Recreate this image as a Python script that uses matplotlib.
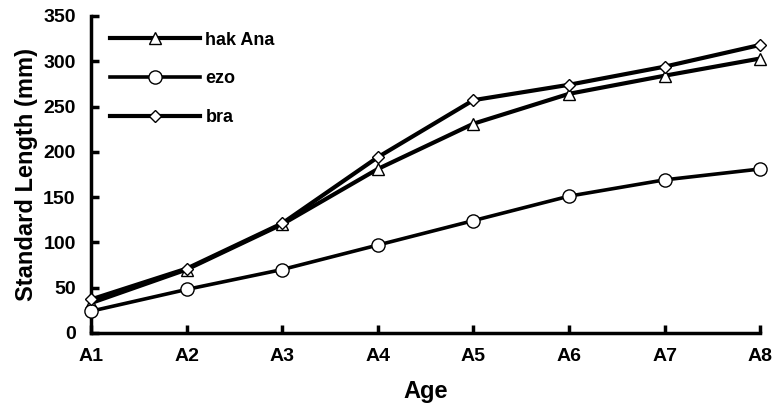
import matplotlib
matplotlib.use("Agg")
import matplotlib.pyplot as plt

plt.rcParams['font.family'] = ['Liberation Sans', 'DejaVu Sans']
plt.rcParams['font.weight'] = 'bold'

# Data
ages = ['A1', 'A2', 'A3', 'A4', 'A5', 'A6', 'A7', 'A8']
hak_ana = [33, 70, 120, 181, 231, 264, 284, 303]
ezo = [24, 48, 70, 97, 124, 151, 169, 181]
bra = [37, 71, 121, 194, 257, 274, 294, 318]

fig = plt.figure(figsize=(7.78, 4.09), dpi=100)
ax = fig.add_axes([0.117, 0.186, 0.86, 0.775])

x = range(len(ages))
ax.plot(x, hak_ana, color='black', lw=3, marker='^', ms=8, mfc='white',
        mec='black', mew=1, label='hak Ana', clip_on=False, zorder=3)
ax.plot(x, ezo, color='black', lw=2.6, marker='o', ms=9.5, mfc='white',
        mec='black', mew=1, label='ezo', clip_on=False, zorder=3)
ax.plot(x, bra, color='black', lw=3, marker='D', ms=6, mfc='white',
        mec='black', mew=1, label='bra', clip_on=False, zorder=4)

ax.set_xlim(0, len(ages) - 1)
ax.set_ylim(0, 350)
ax.set_xticks(list(x))
ax.set_xticklabels(ages)
ax.set_yticks(range(0, 351, 50))

for side in ['top', 'right']:
    ax.spines[side].set_visible(False)
for side in ['left', 'bottom']:
    ax.spines[side].set_linewidth(2.5)

ax.tick_params(direction='in', length=6, width=2.5, labelsize=14, pad=11)
ax.set_xlabel('Age', fontsize=17, fontweight='bold', labelpad=11)
ax.set_ylabel('Standard Length (mm)', fontsize=17, fontweight='bold', labelpad=4)

ax.legend(loc='upper left', frameon=False, fontsize=13, handlelength=5,
          labelspacing=1.2, handletextpad=0.3, borderaxespad=0.0,
          borderpad=0.0, bbox_to_anchor=(0.028, 0.95))

fig.savefig('out.png', dpi=100)
